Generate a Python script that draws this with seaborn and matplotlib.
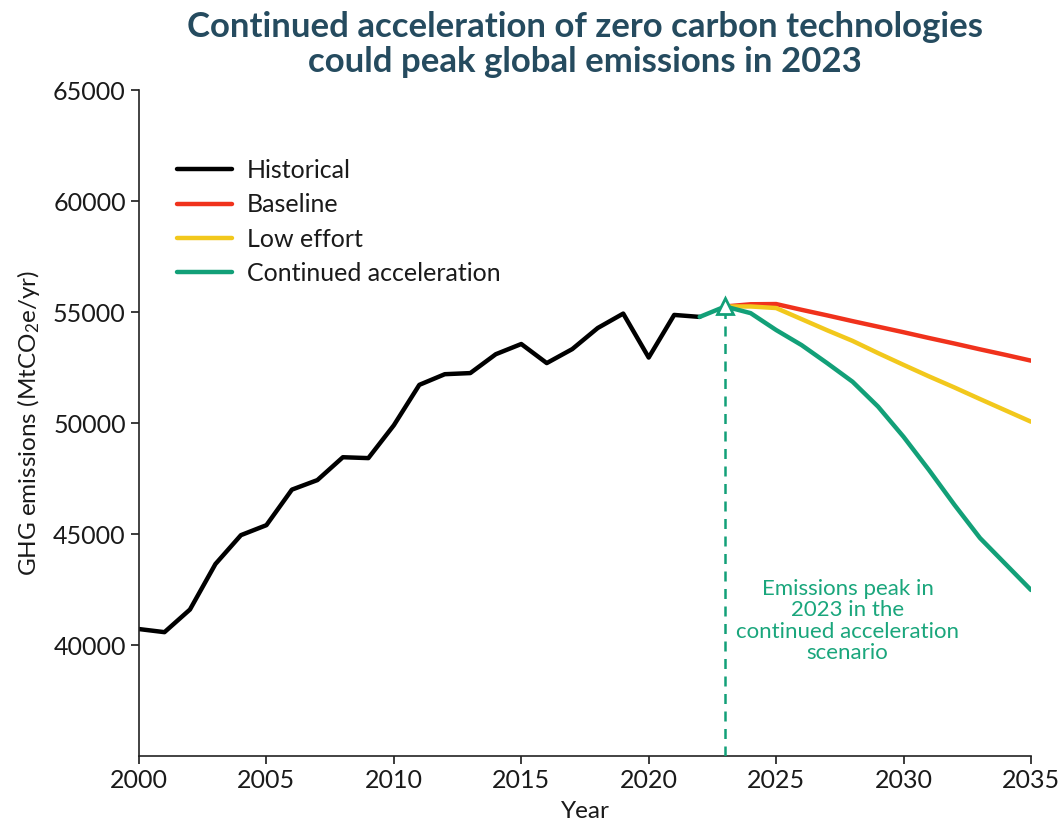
import numpy as np
import pandas as pd
import matplotlib
matplotlib.use("Agg")
import matplotlib.pyplot as plt
import seaborn as sns

# Data (MtCO2e/yr)
hist_years = list(range(2000, 2023))
hist_values = [40720, 40580, 41600, 43650, 44950, 45400, 47000, 47430, 48460, 48420,
               49900, 51720, 52200, 52250, 53100, 53560, 52700, 53330, 54280, 54930,
               52950, 54870, 54780]

scen_years = list(range(2023, 2036))
baseline = [55250, 55350, 55360, 55100, 54850, 54590, 54340, 54090, 53830, 53580,
            53320, 53070, 52810]
low_effort = [55250, 55250, 55180, 54680, 54180, 53700, 53150, 52620, 52100, 51600,
              51080, 50570, 50060]
accel_years = list(range(2022, 2036))
accel = [54780, 55250, 54950, 54190, 53510, 52700, 51860, 50740, 49380, 47880,
         46310, 44820, 43650, 42480]

peak_year = 2023
peak_value = 55250

series_names = ["Historical", "Baseline", "Low effort", "Continued acceleration"]
colors = ["#000000", "#f0321c", "#f2c81c", "#12a078"]

frames = [
    pd.DataFrame({"Year": hist_years, "value": hist_values, "series": "Historical"}),
    pd.DataFrame({"Year": scen_years, "value": baseline, "series": "Baseline"}),
    pd.DataFrame({"Year": scen_years, "value": low_effort, "series": "Low effort"}),
    pd.DataFrame({"Year": accel_years, "value": accel, "series": "Continued acceleration"}),
]
df = pd.concat(frames, ignore_index=True)

sns.set_style("ticks")
plt.rcParams["font.family"] = ["Lato", "DejaVu Sans"]
plt.rcParams["mathtext.fontset"] = "custom"
plt.rcParams["mathtext.rm"] = "Lato"
plt.rcParams["mathtext.it"] = "Lato:italic"
plt.rcParams["text.color"] = "#1a1a1a"
plt.rcParams["axes.labelcolor"] = "#1a1a1a"
plt.rcParams["xtick.color"] = "#1a1a1a"
plt.rcParams["ytick.color"] = "#1a1a1a"

fig = plt.figure(figsize=(10.61, 8.26), dpi=100)
ax = fig.add_axes([0.131, 0.0847, 0.8407, 0.8063])

sns.lineplot(data=df, x="Year", y="value", hue="series", hue_order=series_names,
             palette=dict(zip(series_names, colors)), linewidth=3.2, ax=ax)

ax.set_xlim(2000, 2035)
ax.set_ylim(35000, 65000)
ax.set_xticks(range(2000, 2036, 5))
ax.set_yticks(range(40000, 65001, 5000))

# peak marker and dashed drop line
ax.vlines(peak_year, 35000, peak_value, colors=colors[3], linestyles=(0, (4, 3)),
          linewidth=1.8, zorder=4)
ax.plot([peak_year], [peak_value], marker="^", markersize=12, markerfacecolor="white",
        markeredgecolor=colors[3], markeredgewidth=2, linestyle="none", zorder=5)

ax.text(2027.8, 41080, "Emissions peak in\n2023 in the\ncontinued acceleration\nscenario",
        ha="center", va="center", multialignment="center", fontsize=16,
        color="#1aa67c", linespacing=1.1)

sns.despine(ax=ax)
for s in ["left", "bottom"]:
    ax.spines[s].set_linewidth(1.2)
    ax.spines[s].set_color("#222222")
ax.tick_params(axis="both", labelsize=18, width=1.2, length=6)
ax.set_xlabel("Year", fontsize=17.5, labelpad=6)
ax.set_ylabel("GHG emissions (MtCO$_2$e/yr)", fontsize=17.5, labelpad=8)

ax.set_title("Continued acceleration of zero carbon technologies\ncould peak global emissions in 2023",
             fontsize=25, fontweight="bold", color="#254b5f", pad=13, linespacing=1.1)

leg = ax.legend(loc="upper left", bbox_to_anchor=(0.017, 0.93), frameon=False,
                fontsize=18, handlelength=2.2, handletextpad=0.6, labelspacing=0.45)
for line in leg.get_lines():
    line.set_linewidth(3.2)

fig.savefig("out.png", dpi=100)
